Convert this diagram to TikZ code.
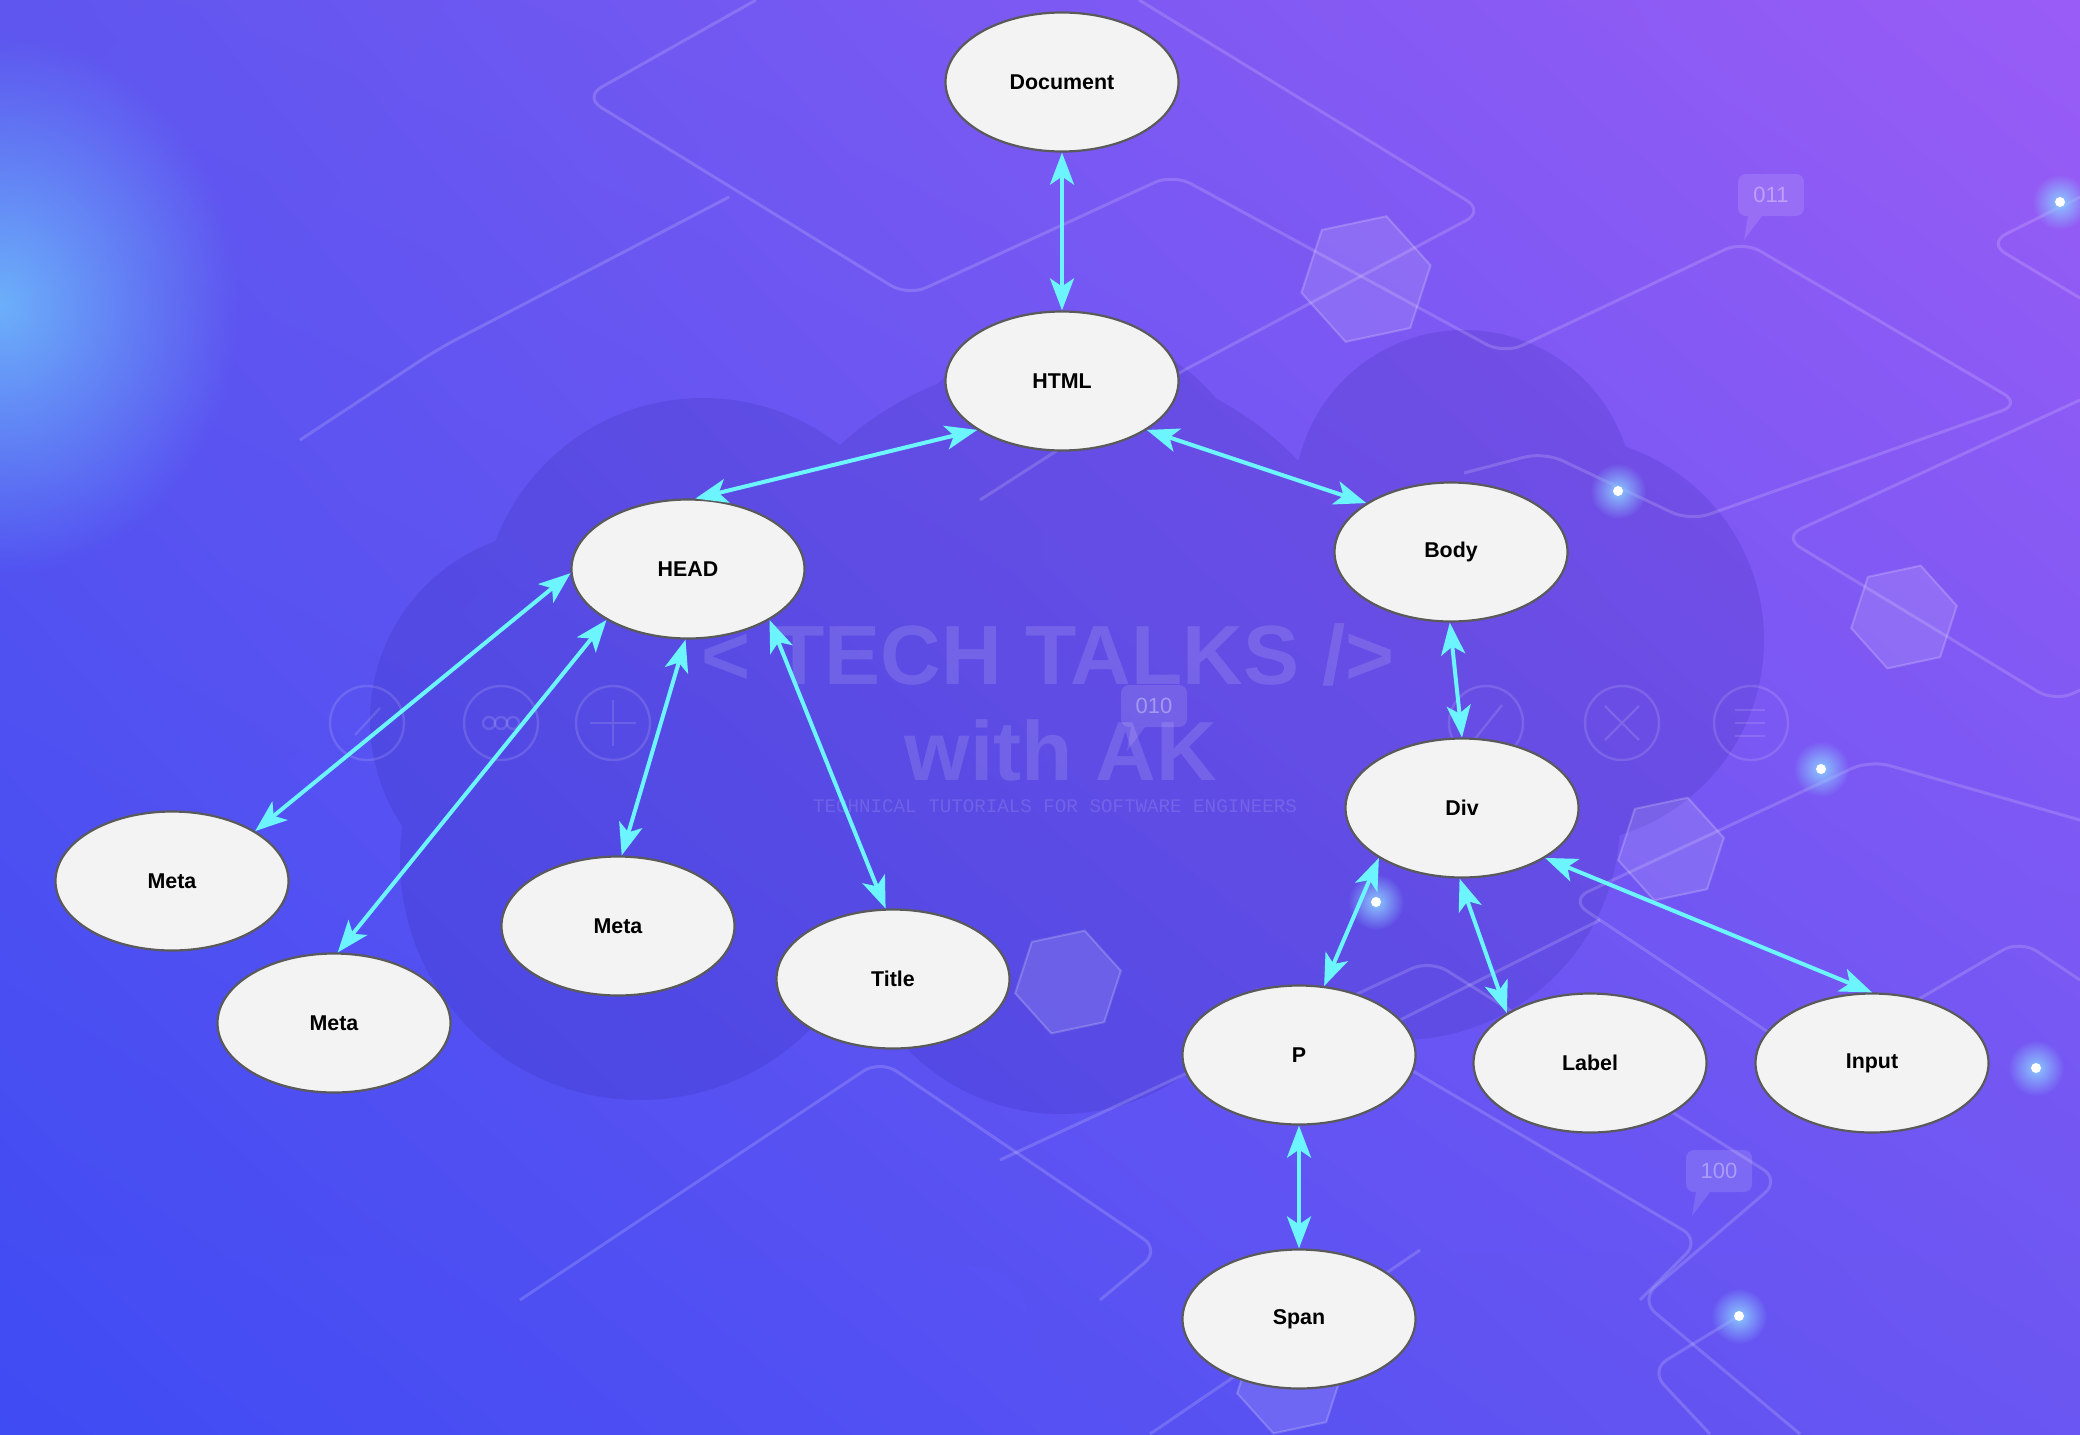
\documentclass[tikz,border=0pt]{standalone}
\usepackage{fontspec}
\setmainfont{Liberation Sans}
\newfontfamily\monof{Liberation Mono}
\usetikzlibrary{arrows.meta,shapes.geometric,fadings,shadings}
\tikzfading[name=glowfade,inner color=transparent!0,outer color=transparent!100]
\definecolor{bgTL}{HTML}{5E56EF}
\definecolor{bgTR}{HTML}{9A5CF6}
\definecolor{bgBL}{HTML}{3F4BF3}
\definecolor{bgBR}{HTML}{6A56F2}
\definecolor{glowc}{HTML}{6CB0FA}
\definecolor{cloudc}{HTML}{2A1FA0}
\definecolor{nodefill}{HTML}{F3F3F3}
\definecolor{nodeline}{HTML}{5A5A5A}
\definecolor{linkc}{HTML}{6CF5FF}
\definecolor{dotc}{HTML}{8CC8FF}
\tikzset{
  tnode/.style={ellipse,draw=nodeline,line width=1.1pt,fill=nodefill,
    minimum width=116.5pt,minimum height=69.5pt,inner sep=0pt,
    font=\bfseries\fontsize{10.7}{12}\selectfont,text=black},
  link/.style={draw=linkc,line width=2pt,
    {Stealth[length=16pt,width=12pt,inset=4pt]}-{Stealth[length=16pt,width=12pt,inset=4pt]}},
  bgline/.style={draw=white,draw opacity=0.16,line width=1.5pt,rounded corners=10pt},
  hexa/.style={regular polygon,regular polygon sides=6,fill=white,fill opacity=0.12,
    draw=white,draw opacity=0.2,line width=1pt,inner sep=0pt},
  iconc/.style={draw=white,draw opacity=0.13,line width=1.2pt},
  wmark/.style={text=white,text opacity=0.13,inner sep=0pt,text depth=0pt},
  bubbleshape/.style={fill=white,fill opacity=0.12,rounded corners=4pt},
  bubbletext/.style={text=white,text opacity=0.35,font=\fontsize{11}{11}\selectfont,
    inner sep=0pt,text depth=0pt}
}
\begin{document}
\begin{tikzpicture}[x=0.5pt,y=-0.5pt]
\useasboundingbox (0,0) rectangle (2080,1434);
% background
\shade[upper left=bgTL,upper right=bgTR,lower left=bgBL,lower right=bgBR]
  (0,0) rectangle (2080,1434);
\begin{scope}
\clip (0,0) rectangle (2080,1434);
\fill[glowc,path fading=glowfade] (0,305) ellipse (120pt and 135pt);
% cloud
\fill[cloudc,opacity=0.16]
  (703,620) circle (111pt) (1070,520) circle (95pt) (1464,500) circle (85pt)
  (1560,640) circle (102pt) (560,720) circle (95pt) (640,860) circle (120pt)
  (1061,900) circle (107pt) (1400,820) circle (110pt) (1061,690) circle (165pt)
  (850,700) circle (125pt);
% decorative lines
\draw[bgline] (756,0) -- (584,97) -- (908,296) -- (1173,174) -- (1504,354) -- (1743,241) -- (2021,404) -- (1690,521) -- (1544,452) -- (1464,473);
\draw[bgline] (1139,0) -- (1484,211) -- (1173,376) -- (980,500);
\draw[bgline] (2080,197) -- (1988,243) -- (2080,298);
\draw[bgline] (2080,400) -- (1783,537) -- (2055,702) -- (2080,690);
\draw[bgline] (729,197) -- (438,349) -- (300,440);
\draw[bgline] (1600,920) -- (1360,1040) -- (1700,1240) -- (1640,1300);
\draw[bgline] (2080,820) -- (1870,760) -- (1570,900) -- (1780,1040);
\draw[bgline] (1900,1010) -- (2020,940) -- (2080,980);
\draw[bgline] (1000,1160) -- (1430,960) -- (1780,1180) -- (1640,1300) -- (1800,1434);
\draw[bgline] (1739,1316) -- (1650,1370) -- (1710,1434);
\draw[bgline] (520,1300) -- (880,1060) -- (1160,1250) -- (1100,1300);
\draw[bgline] (1150,1434) -- (1420,1250);
% hexagons
\node[hexa,minimum size=66pt,rotate=12] (hx1) at (1366,279) {};
\node[hexa,minimum size=54pt,rotate=12] (hx2) at (1904,617) {};
\node[hexa,minimum size=54pt,rotate=12] (hx3) at (1671,849) {};
\node[hexa,minimum size=54pt,rotate=12] (hx4) at (1068,982) {};
\node[hexa,minimum size=54pt,rotate=12] (hx5) at (1290,1382) {};
% bubbles
\fill[bubbleshape] (1738,174) rectangle (1804,216);
\fill[white,opacity=0.12] (1748,216) -- (1762,216) -- (1744,240) -- cycle;
\node[bubbletext] (b1) at (1771,195) {011};
\fill[bubbleshape] (1121,685) rectangle (1187,727);
\fill[white,opacity=0.12] (1131,727) -- (1145,727) -- (1127,751) -- cycle;
\node[bubbletext] (b2) at (1154,706) {010};
\fill[bubbleshape] (1686,1150) rectangle (1752,1192);
\fill[white,opacity=0.12] (1696,1192) -- (1710,1192) -- (1692,1216) -- cycle;
\node[bubbletext] (b3) at (1719,1171) {100};
% icon circles
\foreach \ix in {367,501,613,1486,1622,1751}{
  \draw[iconc] (\ix,723) circle (18.5pt);}
\draw[iconc] (355,735) -- (380,708);
\foreach \dx in {-12,0,12}{\draw[iconc] (501+\dx,723) circle (3pt);}
\draw[iconc] (613,700) -- (613,746) (590,723) -- (636,723);
\draw[iconc] (1470,745) -- (1502,705);
\draw[iconc] (1605,706) -- (1639,740) (1639,706) -- (1605,740);
\draw[iconc] (1735,710) -- (1765,710) (1735,723) -- (1765,723) (1735,736) -- (1765,736);
% watermark
\node[wmark,font=\bfseries\fontsize{42}{42}\selectfont] (wm1) at (1048,654) {< TECH TALKS />};
\node[wmark,font=\bfseries\fontsize{42}{42}\selectfont] (wm2) at (1061,750) {with AK};
\node[wmark,font=\monof\fontsize{9.6}{10}\selectfont] (wm3) at (1055,806) {TECHNICAL TUTORIALS FOR SOFTWARE ENGINEERS};
% glowing dots
\foreach \gx/\gy in {2060/202,1618/491,1821/769,1376/902,2036/1068,1739/1316}{
  \fill[dotc,path fading=glowfade] (\gx,\gy) circle (14pt);
  \fill[white] (\gx,\gy) circle (2.5pt);}
\end{scope}
% nodes
\node[tnode] (doc) at (1062,82) {Document};
\node[tnode] (html) at (1062,381) {HTML};
\node[tnode] (head) at (688,569) {HEAD};
\node[tnode] (body) at (1451,552) {Body};
\node[tnode] (m1) at (172,881) {Meta};
\node[tnode] (m2) at (334,1023) {Meta};
\node[tnode] (m3) at (618,926) {Meta};
\node[tnode] (title) at (893,979) {Title};
\node[tnode] (div) at (1462,808) {Div};
\node[tnode] (p) at (1299,1055) {P};
\node[tnode] (label) at (1590,1063) {Label};
\node[tnode] (input) at (1872,1063) {Input};
\node[tnode] (span) at (1299,1319) {Span};
% connectors
\draw[link] (doc.south) -- (html.north);
\draw[link] (html.210) -- (head.84);
\draw[link] (html.330) -- (body.150);
\draw[link] (head.182) -- (m1.31);
\draw[link] (head.212) -- (m2.87);
\draw[link] (head.268) -- (m3.87);
\draw[link] (head.328) -- (title.96);
\draw[link] (body.269) -- (div.north);
\draw[link] (div.211) -- (p.70);
\draw[link] (div.268) -- (label.149);
\draw[link] (div.329) -- (input.north);
\draw[link] (p.south) -- (span.north);
\end{tikzpicture}
\end{document}
